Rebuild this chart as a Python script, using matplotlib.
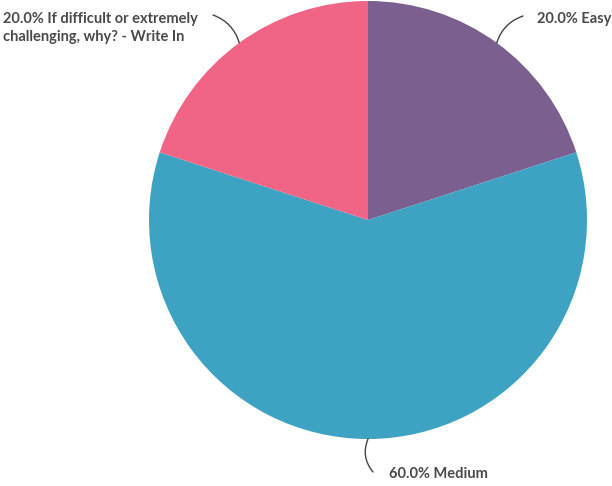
import numpy as np
import matplotlib.pyplot as plt

labels = ["Easy", "Medium", "If difficult or extremely\nchallenging, why? - Write In"]
values = [20.0, 60.0, 20.0]
colors = ["#7b5f8f", "#3ea3c3", "#f06586"]

plt.rcParams['font.family'] = ['Lato', 'DejaVu Sans']

fig = plt.figure(figsize=(6.12, 4.86), dpi=100)
ax = fig.add_axes([0, 0, 1, 1])

cx, cy, r = 368, 266, 219
wedges, _ = ax.pie(values, colors=colors, startangle=90, counterclock=False,
                   center=(cx, cy), radius=r, frame=True,
                   wedgeprops=dict(linewidth=0))
ax.set_xlim(0, 612)
ax.set_ylim(0, 486)
ax.set_aspect('equal')
ax.axis('off')

# label layout: (line end x, line end y, text x, text y, ha, curve)
layout = [
    (523, 470, 537, 467, 'left', -0.25),
    (373, 14, 389, 12, 'left', 0.3),
    (213, 471, 198, 458, 'right', 0.25),
]
txt_color = "#4a4a4a"
for w, lab, v, (lx, ly, tx, ty, ha, rad) in zip(wedges, labels, values, layout):
    ang = np.deg2rad((w.theta1 + w.theta2) / 2)
    px = cx + r * np.cos(ang)
    py = cy + r * np.sin(ang)
    ax.annotate("", xy=(lx, ly), xytext=(px, py),
                arrowprops=dict(arrowstyle='-', color='#444444', lw=1,
                                connectionstyle="arc3,rad=%s" % rad,
                                shrinkA=0, shrinkB=0))
    ax.text(tx, ty, "%.1f%% %s" % (v, lab), ha=ha, va='center',
            multialignment='left', fontsize=10.5, fontweight='bold',
            color=txt_color, linespacing=1.3)

fig.savefig("out.png", dpi=100)
